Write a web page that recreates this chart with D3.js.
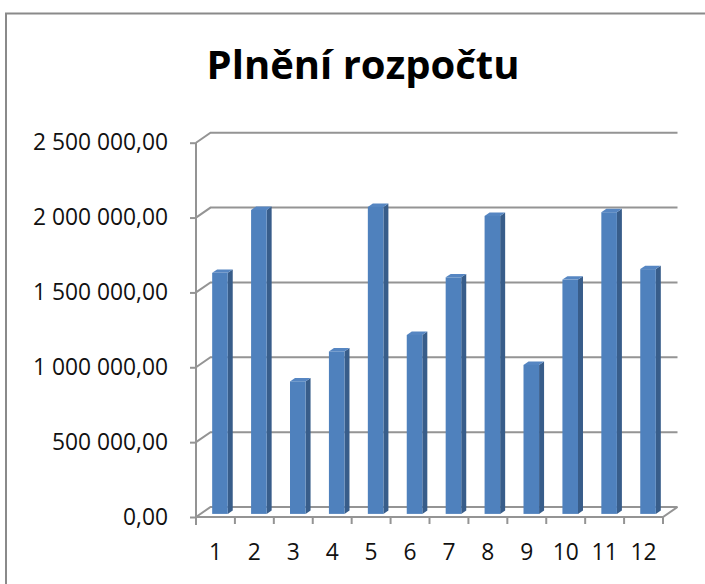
<!DOCTYPE html>
<html>
<head>
<meta charset="utf-8">
<script src="https://cdn.jsdelivr.net/npm/d3@7"></script>
<style>
  body { margin: 0; background: #fff; }
  svg { display: block; }
</style>
</head>
<body>
<svg></svg>
<script>
// months 1..12, budget fulfilment values
var categories = ["1", "2", "3", "4", "5", "6", "7", "8", "9", "10", "11", "12"];
var values = [1610000, 2030000, 885000, 1085000, 2050000, 1195000,
              1580000, 1990000, 995000, 1565000, 2015000, 1635000];
var yTicks = [0, 500000, 1000000, 1500000, 2000000, 2500000];
var title = "Plnění rozpočtu";

var svgWidth = 705, svgHeight = 584;
var plotLeft = 196, plotRight = 663, plotBottom = 517, plotTop = 142.7;
// 3d depth offset (front plane -> back wall)
var depthX = 14.5, depthY = -10;
var barFront = 0.31, barBack = 0.655;

var svg = d3.select("svg")
  .attr("width", svgWidth)
  .attr("height", svgHeight)
  .style("font-family", "'Open Sans', 'Noto Sans', sans-serif");

svg.append("rect")
  .attr("width", svgWidth).attr("height", svgHeight)
  .attr("fill", "#fff");

// chart frame
svg.append("path")
  .attr("d", "M6," + (svgHeight + 2) + "V13.5H" + (svgWidth + 2))
  .attr("fill", "none")
  .attr("stroke", "#8a8a8a")
  .attr("stroke-width", 2);

svg.append("text")
  .attr("x", 363)
  .attr("y", 79)
  .attr("text-anchor", "middle")
  .attr("font-size", 40)
  .attr("font-weight", "bold")
  .attr("fill", "#000")
  .text(title);

var x = d3.scaleBand()
  .domain(categories)
  .range([plotLeft, plotRight]);

var y = d3.scaleLinear()
  .domain([0, 2500000])
  .range([plotBottom, plotTop]);

var cz = d3.formatLocale({decimal: ",", thousands: "\u00a0", grouping: [3], currency: ["", ""]});
var fmt = cz.format(",.2f");

var gridColor = "#949494";

// back wall gridlines + side wall connectors
var grid = svg.append("g");
yTicks.forEach(function(t) {
  grid.append("path")
    .attr("d", "M" + plotLeft + "," + y(t) +
               "L" + (plotLeft + depthX) + "," + (y(t) + depthY) +
               "H" + (plotRight + depthX))
    .attr("fill", "none")
    .attr("stroke", gridColor)
    .attr("stroke-width", 2);
});

// floor
svg.append("path")
  .attr("d", "M" + plotLeft + "," + plotBottom + "H" + plotRight +
             "L" + (plotRight + depthX) + "," + (plotBottom + depthY))
  .attr("fill", "none")
  .attr("stroke", gridColor)
  .attr("stroke-width", 2);

// y axis
var yAxis = svg.append("g")
  .attr("transform", "translate(" + plotLeft + ",0)")
  .call(d3.axisLeft(y).tickValues(yTicks).tickSize(6).tickPadding(22).tickFormat(fmt));
yAxis.selectAll("path, line").attr("stroke", gridColor).attr("stroke-width", 2);
yAxis.select(".domain").attr("d", "M0," + plotTop + "V" + (plotBottom + 8));
yAxis.selectAll("text")
  .attr("font-size", 22.8)
  .attr("font-family", "'Open Sans', sans-serif")
  .attr("fill", "#111");

// x axis: labels at band centres, ticks on band edges
var xAxis = svg.append("g")
  .attr("transform", "translate(0," + plotBottom + ")")
  .call(d3.axisBottom(x).tickSize(0).tickPadding(27));
xAxis.select(".domain").remove();
xAxis.selectAll("text")
  .attr("font-size", 22.8)
  .attr("font-family", "'Open Sans', sans-serif")
  .attr("fill", "#111");

svg.append("g").selectAll("line")
  .data(categories)
  .join("line")
  .attr("x1", function(d) { return x(d) + x.bandwidth(); })
  .attr("x2", function(d) { return x(d) + x.bandwidth(); })
  .attr("y1", plotBottom)
  .attr("y2", plotBottom + 7)
  .attr("stroke", gridColor)
  .attr("stroke-width", 2);

// 3d bars
var barW = x.bandwidth() * 0.4;
var fdx = depthX * barFront, fdy = depthY * barFront;
var bdx = depthX * barBack, bdy = depthY * barBack;

var bars = svg.append("g").selectAll("g")
  .data(values.map(function(v, i) { return {cat: categories[i], value: v}; }))
  .join("g");

function pts(arr) { return arr.map(function(p) { return p.join(","); }).join(" "); }

bars.append("polygon") // side
  .attr("fill", "#385D8A")
  .attr("points", function(d) {
    var xr = x(d.cat) + x.bandwidth() / 2 + barW / 2;
    var yt = y(d.value), yb = y(0);
    return pts([[xr + fdx, yt + fdy], [xr + bdx, yt + bdy], [xr + bdx, yb + bdy], [xr + fdx, yb + fdy]]);
  });

bars.append("polygon") // top
  .attr("fill", "#5686C2")
  .attr("points", function(d) {
    var xl = x(d.cat) + x.bandwidth() / 2 - barW / 2, xr = xl + barW;
    var yt = y(d.value);
    return pts([[xl + fdx, yt + fdy], [xl + bdx, yt + bdy], [xr + bdx, yt + bdy], [xr + fdx, yt + fdy]]);
  });

bars.append("rect") // front
  .attr("fill", "#4F81BD")
  .attr("x", function(d) { return x(d.cat) + x.bandwidth() / 2 - barW / 2 + fdx; })
  .attr("y", function(d) { return y(d.value) + fdy; })
  .attr("width", barW)
  .attr("height", function(d) { return y(0) - y(d.value); });
</script>
</body>
</html>
